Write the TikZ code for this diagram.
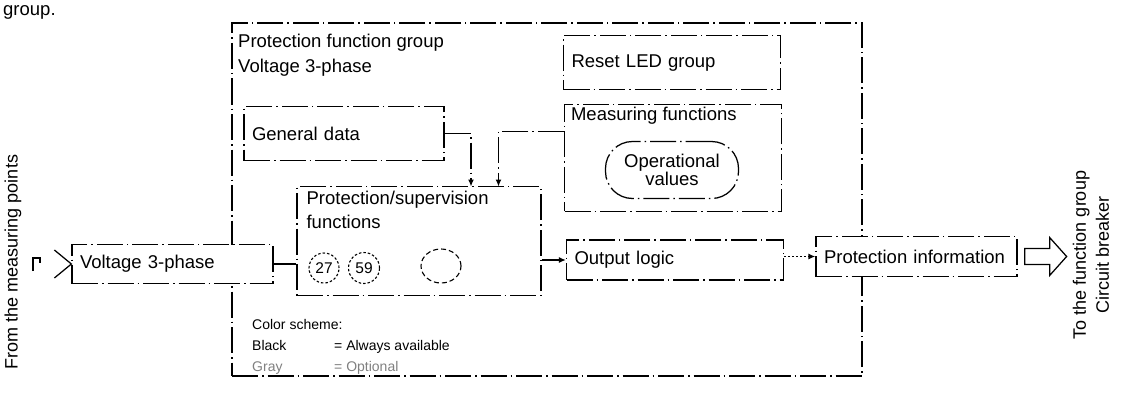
\documentclass[tikz,border=0pt]{standalone}
\usepackage{fontspec}
\setmainfont{Liberation Sans}
\usetikzlibrary{arrows.meta,calc,shapes.geometric}
\newcommand{\mfs}{\fontsize{18.5}{23}\selectfont}
\newcommand{\ofs}{\fontsize{18.5}{18}\selectfont}
\newcommand{\lfs}{\fontsize{14}{17}\selectfont}
\newcommand{\cfs}{\fontsize{15.5}{17}\selectfont}
\begin{document}
\begin{tikzpicture}[x=1pt,y=-1pt,
  dd/.style={line width=1.25pt, dash pattern=on 26pt off 4pt on 1.5pt off 4pt},
  blk/.style={draw, dd, fill=white, inner sep=0pt, font=\mfs},
  lbox/.style={blk, inner xsep=8pt, align=left},
  txt/.style={inner sep=0pt, font=\mfs},
  leg/.style={inner sep=0pt, font=\lfs, anchor=base west},
  dotc/.style={draw, circle, line width=1.1pt, dash pattern=on 2.5pt off 2pt, inner sep=0pt, font=\cfs},
  tip/.style={-{Latex[length=7pt,width=6pt]}},
  conn/.style={line width=1.25pt}
]
\useasboundingbox (0,0) rectangle (1123,396);

% outer group frame
\node[draw, dd, minimum width=630pt, minimum height=353pt, inner sep=0pt] (grp) at (547,199.5) {};

\node[txt, anchor=base west] (capt) at (3,16) {group.};
\node[txt, anchor=base west] (pfg) at (238,48) {Protection function group};
\node[txt, anchor=base west] (pfv) at (238,72) {Voltage 3-phase};

% boxes
\node[lbox, minimum width=201pt, minimum height=39pt, text width=185pt] (vb) at (172.5,264) {Voltage 3-phase};
\node[lbox, minimum width=200pt, minimum height=54pt, text width=184pt] (gd) at (344,133.6) {General data};
\node[lbox, minimum width=217pt, minimum height=54pt, text width=201pt] (rl) at (672,62.6) {Reset LED group};
\node[blk, minimum width=217pt, minimum height=107pt] (mf) at (673,157.8) {};
\node[txt, anchor=base west] (mfl) at ($(mf.north west)+(7,17)$) {Measuring functions};
\node[draw, dd, rounded corners=27pt, minimum width=133pt, minimum height=57pt, inner sep=0pt, align=center, font=\ofs] (ov) at (672,170) {Operational\\values};
\node[blk, minimum width=244pt, minimum height=109pt] (ps) at (419,241) {};
\node[txt, anchor=base west] (psl1) at ($(ps.north west)+(10,19)$) {Protection/supervision};
\node[txt, anchor=base west] (psl2) at ($(ps.north west)+(10,43)$) {functions};
\node[dotc, minimum size=30pt] (c27) at (324,268) {27};
\node[dotc, minimum size=31pt] (c59) at (364,268) {59};
\node[draw, ellipse, line width=1.1pt, dash pattern=on 5pt off 3pt, minimum width=40pt, minimum height=34pt, inner sep=0pt] (c3) at (441,266) {};
\node[lbox, minimum width=217pt, minimum height=40pt, text width=201pt] (ol) at (675,260) {Output logic};
\node[lbox, minimum width=201pt, minimum height=40pt, text width=185pt] (pi) at (916.5,256.5) {Protection information};

% connectors
\coordinate (t1) at (471,186.5);
\coordinate (t2) at (498.5,186.5);
\draw[dd, tip] (gd.east) -| (t1);
\draw[dd, tip] ([yshift=-28pt]mf.north west) -| (t2);
\draw[conn] (vb.east) -- (vb.east -| ps.west);
\draw[conn, tip] (ps.east |- ol.west) -- (ol.west);
\draw[conn, dash pattern=on 1.5pt off 2.5pt, tip] (ol.east |- pi.west) -- (pi.west);

% input symbol
\draw[conn] ($(vb.west)+(-17,-14)$) -- (vb.west) -- ($(vb.west)+(-17,14)$);
\draw[conn] (33,271) -- (33,258) -- (40,258) -- (40,263);
\node[txt, rotate=90, font=\fontsize{18}{22}\selectfont] (from) at (13,262) {From the measuring points};

% output symbol
\draw[conn] ($(pi.east)+(7,-8)$) -- ++(25,0) -- ++(0,-11) -- ++(17,19) -- ++(-17,19) -- ++(0,-11) -- ++(-25,0) -- cycle;
\node[txt, rotate=90, align=center, font=\fontsize{18}{23}\selectfont] (tofg) at (1091,255) {To the function group\\Circuit breaker};

% legend
\node[leg] (lg1) at (252,329) {Color scheme:};
\node[leg] (lg2) at (252,350) {Black};
\node[leg] (lg3) at (334,350) {= Always available};
\node[leg, text=gray] (lg4) at (252,371) {Gray};
\node[leg, text=gray] (lg5) at (334,371) {= Optional};
\end{tikzpicture}
\end{document}
